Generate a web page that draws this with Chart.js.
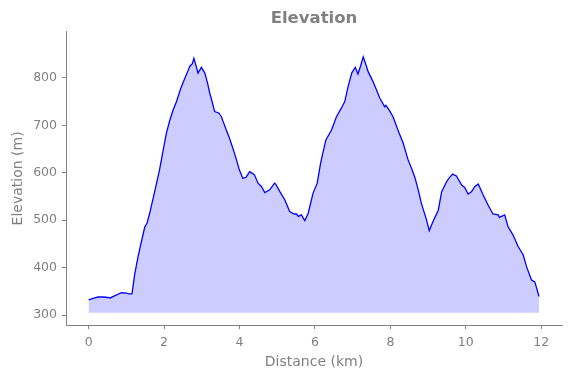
<!DOCTYPE html>
<html>
<head>
<meta charset="utf-8">
<script src="https://cdn.jsdelivr.net/npm/chart.js@4"></script>
<style>
  html, body { margin: 0; padding: 0; background: #fff; }
</style>
</head>
<body>
<canvas id="GraficoElevacion" width="571" height="378"></canvas>
<script>
var distancia = [0.00, 0.12, 0.25, 0.40, 0.50, 0.57, 0.70, 0.87, 1.00, 1.10, 1.15, 1.22, 1.31, 1.40, 1.49, 1.55,
  1.62, 1.75, 1.88, 1.97, 2.06, 2.15, 2.24, 2.33, 2.43, 2.55, 2.62, 2.68, 2.75, 2.79, 2.85, 2.90, 2.99, 3.08,
  3.15, 3.21, 3.28, 3.34, 3.45, 3.52, 3.58, 3.65, 3.72, 3.78, 3.85, 3.92, 4.00, 4.09, 4.18, 4.27, 4.35, 4.40,
  4.49, 4.58, 4.67, 4.80, 4.93, 4.96, 5.07, 5.20, 5.33, 5.45, 5.51, 5.56, 5.64, 5.73, 5.82, 5.95, 6.06, 6.15,
  6.22, 6.29, 6.44, 6.57, 6.70, 6.79, 6.88, 6.98, 7.07, 7.14, 7.21, 7.28, 7.35, 7.41, 7.54, 7.63, 7.72, 7.85,
  7.88, 7.97, 8.07, 8.20, 8.34, 8.47, 8.58, 8.65, 8.75, 8.82, 8.96, 9.03, 9.13, 9.27, 9.36, 9.49, 9.56, 9.65,
  9.75, 9.89, 9.97, 10.06, 10.15, 10.24, 10.33, 10.46, 10.59, 10.72, 10.86, 10.89, 11.03, 11.12, 11.25, 11.39,
  11.52, 11.61, 11.74, 11.83, 11.94];
var elevacion = [332, 335, 338, 338, 337, 336, 341, 347, 346, 344, 345, 385, 423, 455, 486, 494,
  515, 560, 606, 645, 683, 710, 732, 750, 775, 799, 812, 824, 830, 841, 825, 810, 822, 810,
  790, 768, 748, 729, 726, 718, 705, 690, 676, 662, 645, 627, 605, 588, 591, 602, 598, 595,
  578, 571, 558, 564, 578, 576, 560, 543, 518, 513, 513, 508, 511, 499, 514, 557, 578, 620,
  645, 669, 690, 718, 736, 750, 782, 811, 822, 808, 825, 844, 828, 813, 792, 775, 757, 739,
  742, 732, 718, 690, 662, 627, 605, 590, 560, 536, 500, 478, 497, 521, 560, 581, 589, 597,
  593, 574, 569, 555, 560, 571, 576, 553, 532, 513, 511, 506, 511, 486, 469, 444,
  427, 402, 374, 370, 339];
var base = 305;
var ticksX = [0, 2, 4, 6, 8, 10, 12];
var ticksY = [300, 400, 500, 600, 700, 800];

var gris = '#808080';
var puntos = distancia.map(function (d, i) { return { x: d, y: elevacion[i] }; });

var ctx = document.getElementById('GraficoElevacion').getContext('2d');
var data = {
  datasets: [{
    label: 'Elevation',
    data: puntos,
    borderColor: '#0000ff',
    borderWidth: 1.3,
    backgroundColor: 'rgba(0, 0, 255, 0.2)',
    fill: { value: base },
    pointRadius: 0,
    tension: 0
  }]
};
var options = {
  responsive: false,
  animation: false,
  devicePixelRatio: 1,
  layout: { padding: { left: 0, right: 9, top: 0, bottom: 0 } },
  plugins: {
    legend: { display: false },
    tooltip: { enabled: false },
    title: {
      display: true,
      text: 'Elevation',
      fullSize: false,
      color: gris,
      font: { family: 'DejaVu Sans', size: 16.5, weight: 'bold' },
      padding: { top: 9, bottom: 3 }
    }
  },
  scales: {
    x: {
      type: 'linear',
      min: -0.6,
      max: 12.55,
      afterFit: function (s) { s.height = 53; },
      afterBuildTicks: function (s) { s.ticks = ticksX.map(function (v) { return { value: v }; }); },
      grid: { drawOnChartArea: false, drawTicks: true, tickLength: 4, color: gris },
      border: { color: gris, width: 1 },
      ticks: { color: gris, padding: 6, font: { family: 'DejaVu Sans', size: 12.5 }, maxRotation: 0 },
      title: { display: true, text: 'Distance (km)', color: gris, font: { family: 'DejaVu Sans', size: 14 }, padding: { top: 0, bottom: 7 } }
    },
    y: {
      min: 279,
      max: 897,
      afterFit: function (s) { s.width = 66; },
      afterBuildTicks: function (s) { s.ticks = ticksY.map(function (v) { return { value: v }; }); },
      grid: { drawOnChartArea: false, drawTicks: true, tickLength: 4, color: gris },
      border: { color: gris, width: 1 },
      ticks: { color: gris, padding: 5, font: { family: 'DejaVu Sans', size: 12.5 } },
      title: { display: true, text: 'Elevation (m)', color: gris, font: { family: 'DejaVu Sans', size: 14 }, padding: { top: 10, bottom: 0 } }
    }
  }
};
var GraficoElevacion = new Chart(ctx, {
  type: 'line',
  data: data,
  options: options
});
</script>
</body>
</html>
